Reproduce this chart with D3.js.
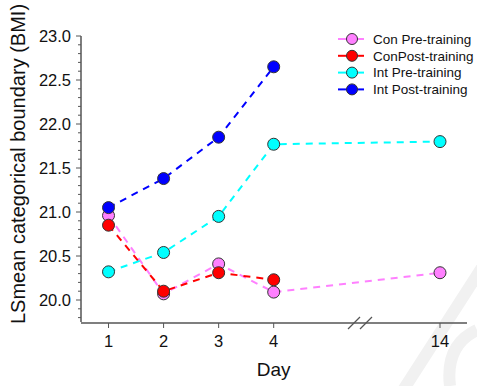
<!DOCTYPE html>
<html>
<head>
<meta charset="utf-8">
<script src="https://cdn.jsdelivr.net/npm/d3@7"></script>
<style>
body { margin: 0; background: #fff; }
svg { font-family: "Liberation Sans", Arial, sans-serif; }
</style>
</head>
<body>
<svg id="chart" width="477" height="386"></svg>
<script>
var svg = d3.select("#chart");

var days = [1, 2, 3, 4, 14];
var conPre = [20.96, 20.07, 20.41, 20.09, 20.31];
var conPost = [20.85, 20.10, 20.31, 20.23, null];
var intPre = [20.32, 20.54, 20.95, 21.77, 21.80];
var intPost = [21.05, 21.38, 21.85, 22.65, null];

var seriesNames = ["Con Pre-training", "ConPost-training", "Int Pre-training", "Int Post-training"];
var seriesColors = ["#ff80ff", "#ff0000", "#00ffff", "#0000ff"];
var yTicks = [20.0, 20.5, 21.0, 21.5, 22.0, 22.5, 23.0];

var series = [conPre, conPost, intPre, intPost].map(function(vals, i){
	return {
		name: seriesNames[i],
		color: seriesColors[i],
		points: days.map(function(d, j){ return {day: d, value: vals[j]}; })
			.filter(function(p){ return p.value != null; })
	};
});

// broken x axis: 4 -> 14 squeezed
var x = d3.scaleLinear().domain([0.5, 4, 14, 14.5]).range([81, 273.7, 440, 467]);
var y = d3.scaleLinear().domain([19.75, 23.0]).range([322, 36]);

var axisColor = "#555";

// faint watermark strokes
var wm = svg.append("g").attr("stroke", "#f1f1f1").attr("stroke-width", 12).attr("fill", "none");
wm.append("line").attr("x1", 490).attr("y1", 255).attr("x2", 400).attr("y2", 395);
wm.append("path").attr("d", "M477,330 Q445,345 450,386");

// y axis
var yAxis = svg.append("g").attr("stroke", axisColor);
yAxis.append("line").attr("x1", 81).attr("x2", 81).attr("y1", y(19.75)).attr("y2", y(23.0)).attr("stroke-width", 1.5);
var minor = d3.range(198, 231).map(function(v){ return v / 10; });
yAxis.selectAll("line.minor").data(minor).enter().append("line")
	.attr("class", "minor")
	.attr("x1", function(d){ return Math.round(d * 10) % 5 == 0 ? 76 : 78; })
	.attr("x2", 81)
	.attr("y1", function(d){ return y(d); })
	.attr("y2", function(d){ return y(d); })
	.attr("stroke-width", 1);
svg.selectAll("text.ytick").data(yTicks).enter().append("text")
	.attr("class", "ytick")
	.attr("x", 71)
	.attr("y", function(d){ return y(d); })
	.attr("dy", "0.36em")
	.attr("text-anchor", "end")
	.attr("font-size", 16.5)
	.attr("fill", "#111")
	.text(function(d){ return d.toFixed(1); });

// x axis with break
var xAxis = svg.append("g").attr("stroke", axisColor);
xAxis.append("line").attr("x1", 81).attr("x2", 467).attr("y1", 323).attr("y2", 323).attr("stroke-width", 1.5);
xAxis.selectAll("line.xt").data(days).enter().append("line")
	.attr("class", "xt")
	.attr("x1", function(d){ return x(d); })
	.attr("x2", function(d){ return x(d); })
	.attr("y1", 323).attr("y2", 328);
[354, 366].forEach(function(c){
	xAxis.append("line")
		.attr("x1", c - 6).attr("y1", 329)
		.attr("x2", c + 6).attr("y2", 317)
		.attr("stroke-width", 1.2);
});
svg.selectAll("text.xtick").data(days).enter().append("text")
	.attr("class", "xtick")
	.attr("x", function(d){ return x(d); })
	.attr("y", 347)
	.attr("text-anchor", "middle")
	.attr("font-size", 16.5)
	.attr("fill", "#111")
	.text(function(d){ return d; });

svg.append("text").attr("x", x(4)).attr("y", 376).attr("text-anchor", "middle")
	.attr("font-size", 19).attr("fill", "#111").text("Day");
svg.append("text")
	.attr("transform", "translate(25,164) rotate(-90)")
	.attr("text-anchor", "middle")
	.attr("font-size", 20).attr("fill", "#111")
	.text("LSmean categorical boundary (BMI)");

// lines
var line = d3.line().x(function(p){ return x(p.day); }).y(function(p){ return y(p.value); });
svg.selectAll("path.series").data(series).enter().append("path")
	.attr("class", "series")
	.attr("d", function(s){ return line(s.points); })
	.attr("fill", "none")
	.attr("stroke", function(s){ return s.color; })
	.attr("stroke-width", 2)
	.attr("stroke-dasharray", "7,6");

// markers
series.forEach(function(s){
	svg.append("g").selectAll("circle").data(s.points).enter().append("circle")
		.attr("cx", function(p){ return x(p.day); })
		.attr("cy", function(p){ return y(p.value); })
		.attr("r", 6)
		.attr("fill", s.color)
		.attr("stroke", "#333")
		.attr("stroke-width", 1);
});

// legend
var legend = svg.append("g").selectAll("g").data(series).enter().append("g")
	.attr("transform", function(s, i){ return "translate(0," + (39 + i * 16.8) + ")"; });
legend.append("line").attr("x1", 338).attr("x2", 364).attr("y1", 0).attr("y2", 0)
	.attr("stroke", function(s){ return s.color; }).attr("stroke-width", 2);
legend.append("circle").attr("cx", 352).attr("cy", 0).attr("r", 5.5)
	.attr("fill", function(s){ return s.color; }).attr("stroke", "#333").attr("stroke-width", 1);
legend.append("text").attr("x", 373).attr("y", 0).attr("dy", "0.36em")
	.attr("font-size", 13.5).attr("fill", "#111")
	.text(function(s){ return s.name; });
</script>
</body>
</html>
